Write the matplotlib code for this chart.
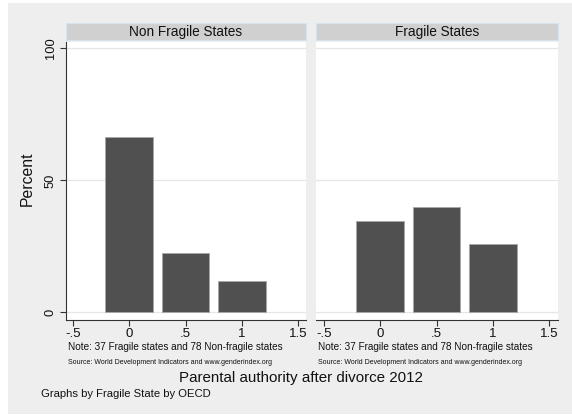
import matplotlib
matplotlib.use('Agg')
import matplotlib.pyplot as plt
from matplotlib.patches import Rectangle

plt.rcParams['font.family'] = ['Liberation Sans', 'DejaVu Sans']

# data
authority_values = [0, 0.5, 1]
nonfragile_pct = [66.3, 22.3, 11.8]
fragile_pct = [34.5, 40.0, 25.9]
panel_titles = ["Non Fragile States", "Fragile States"]
xtick_pos = [-0.5, 0, 0.5, 1, 1.5]
xtick_labels = ["-.5", "0", ".5", "1", "1.5"]
ytick_pos = [0, 50, 100]
ytick_labels = ["0", "50", "100"]

note_text = "Note: 37 Fragile states and 78 Non-fragile states"
source_text = "Source: World Development Indicators and www.genderindex.org"

W, H = 572, 415
fig = plt.figure(figsize=(W / 100, H / 100), dpi=100, facecolor='white')


def fx(px):
    return px / W


def fy(py):
    return 1 - py / H


# grey graph region (small white border at top/left like the screenshot)
fig.patches.append(Rectangle((fx(8), fy(414)), fx(572) - fx(8), fy(3) - fy(414),
                             transform=fig.transFigure, facecolor='#eeeeee',
                             edgecolor='none', zorder=-10))

top_px, bot_px = 42, 320
panels = [
    (panel_titles[0], nonfragile_pct, 65.7, 305.7, (-0.564, 1.5675), True),
    (panel_titles[1], fragile_pct, 316.3, 558.3, (-0.568, 1.581), False),
]

for title, pct, left, right, xlim, show_y in panels:
    ax = fig.add_axes([fx(left), fy(bot_px), fx(right) - fx(left), fy(top_px) - fy(bot_px)])
    ax.set_facecolor('white')
    ax.bar(authority_values, pct, width=0.425, color='#505050',
           edgecolor='#a8a8a8', linewidth=0.7, zorder=3)
    ax.set_xlim(*xlim)
    ax.set_ylim(-2.92, 102.4)

    ax.set_yticks(ytick_pos)
    ax.yaxis.grid(True, color='#e6e6e6', linewidth=0.9, zorder=0)
    ax.set_xticks(xtick_pos)
    ax.set_xticklabels(xtick_labels)

    for s in ['top', 'right']:
        ax.spines[s].set_visible(False)
    ax.spines['bottom'].set_color('#333333')
    ax.spines['bottom'].set_linewidth(0.8)
    ax.tick_params(axis='x', length=4, width=0.8, color='#333333',
                   labelsize=9.5, pad=2, labelcolor='#111111')

    if show_y:
        ax.spines['left'].set_color('#333333')
        ax.spines['left'].set_linewidth(0.8)
        ax.set_yticklabels(ytick_labels, rotation=90, va='center')
        ax.tick_params(axis='y', length=4, width=0.8, color='#333333',
                       labelsize=9.3, pad=2.5, labelcolor='#111111')
    else:
        ax.spines['left'].set_visible(False)
        ax.tick_params(axis='y', length=0, labelleft=False)

    # strip on top of each panel
    ax_h = bot_px - top_px
    strip_y0 = 1 + (top_px - 40.5) / ax_h
    strip_h = (40.5 - 23.3) / ax_h
    ax.add_patch(Rectangle((0, strip_y0), 1, strip_h, transform=ax.transAxes,
                           facecolor='#d0d0d0', edgecolor='#d6e4ee',
                           linewidth=0.8, clip_on=False, zorder=5))
    ax.text(0.5, strip_y0 + strip_h / 2, title, transform=ax.transAxes,
            ha='center', va='center', fontsize=9.8, color='#111111', zorder=6)

    # notes below each panel
    fig.text(fx(left + 2), fy(350), note_text, fontsize=7.2, va='baseline', color='#111111')
    fig.text(fx(left + 2), fy(363.7), source_text, fontsize=5.0, va='baseline', color='#111111')

fig.text(fx(27.7), fy(179), "Percent", rotation=90, ha='center', va='center',
         fontsize=11.3, color='#111111')
fig.text(fx(301.3), fy(382.3), "Parental authority after divorce 2012",
         ha='center', va='baseline', fontsize=10.9, color='#111111')
fig.text(fx(40.7), fy(396.5), "Graphs by Fragile State by OECD",
         va='baseline', fontsize=8.1, color='#111111')

fig.savefig('out.png', dpi=100, facecolor=fig.get_facecolor())
